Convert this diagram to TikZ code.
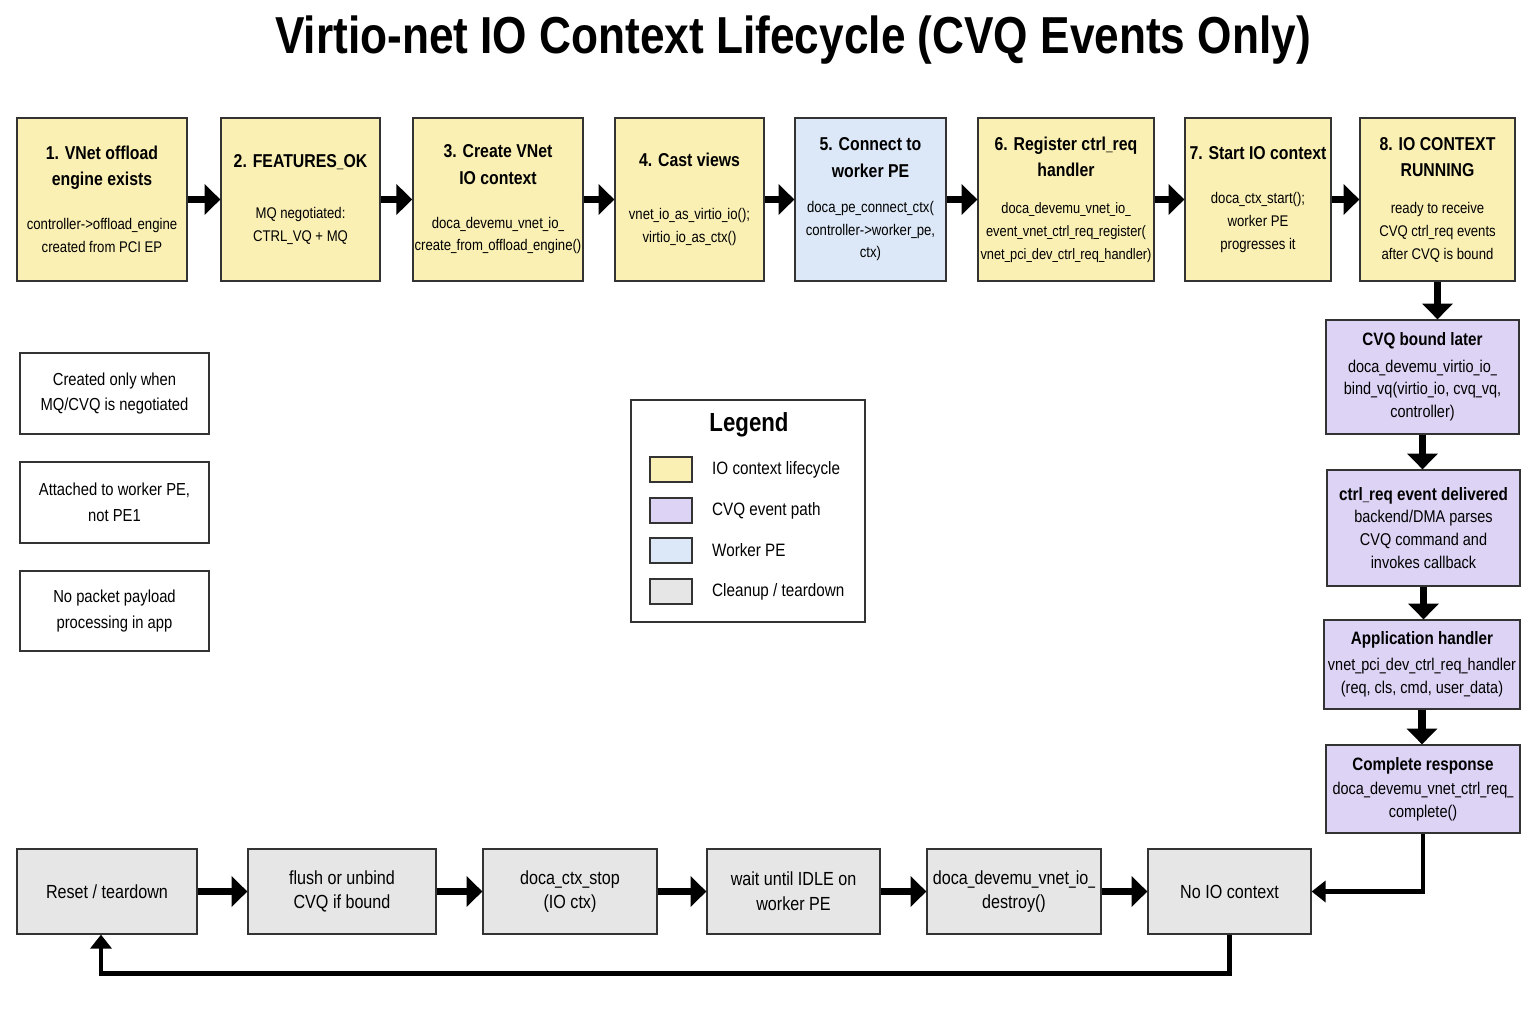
\documentclass[tikz,border=0pt]{standalone}
\usepackage{fontspec}
\setmainfont{Liberation Sans}[FakeStretch=0.85]
\usepackage{tikz}
\usetikzlibrary{arrows.meta,positioning,calc}

\definecolor{lifey}{HTML}{FAF0B4}
\definecolor{cvqp}{HTML}{DDD3F5}
\definecolor{peb}{HTML}{DCE8F7}
\definecolor{cleang}{HTML}{E6E6E6}
\definecolor{edge}{HTML}{333333}

\renewcommand{\_}{\scalebox{0.75}[1]{\textunderscore}}
\newcommand{\hd}[1]{{\fontsize{10.6}{14.7}\selectfont\bfseries #1}}
\newcommand{\hdp}[1]{{\fontsize{10.2}{14}\selectfont\bfseries #1}}

\begin{document}
\begin{tikzpicture}[
    x=0.02cm, y=-0.02cm,
    box/.style={rectangle, draw=edge, line width=0.7pt, align=center, inner sep=1pt},
    life/.style={box, fill=lifey, minimum height=3.26cm, font=\fontsize{8.8}{13}\selectfont},
    worker/.style={life, fill=peb},
    cvq/.style={box, fill=cvqp, font=\fontsize{9.7}{13}\selectfont},
    clean/.style={box, fill=cleang, minimum height=1.7cm, font=\fontsize{10.8}{14}\selectfont},
    note/.style={box, fill=white, minimum width=3.78cm, minimum height=1.62cm, font=\fontsize{9.9}{14.7}\selectfont},
    swatch/.style={rectangle, draw=edge, line width=0.7pt, minimum width=0.84cm, minimum height=0.5cm},
    legtext/.style={anchor=west, font=\fontsize{10.2}{13}\selectfont},
    flow/.style={-{Triangle[length=9pt,width=17pt]}, line width=4pt},
    loopback/.style={-{Triangle[length=8pt,width=12pt]}, line width=2.8pt}
]
\useasboundingbox[fill=white] (0,0) rectangle (1536,1024);

\node[font=\fontsize{29.6}{34}\selectfont\bfseries] (title) at (793,40)
    {Virtio-net IO Context Lifecycle (CVQ Events Only)};

% top row: IO context lifecycle
\node[life, minimum width=3.4cm] (engine) at (102,199.5)
    {\hd{1. VNet offload}\\[2pt]\hd{engine exists}\\[12pt]controller->offload\_engine\\created from PCI EP};
\node[life, minimum width=3.18cm] (feat) at (300.5,199.5)
    {\hd{2. FEATURES\_OK}\\[16pt]MQ negotiated:\\CTRL\_VQ + MQ};
\node[life, minimum width=3.4cm] (create) at (498,199.5)
    {\hd{3. Create VNet}\\[2pt]\hd{IO context}\\[12pt]doca\_devemu\_vnet\_io\_\\create\_from\_offload\_engine()};
\node[life, minimum width=2.98cm] (cast) at (689.5,199.5)
    {\hd{4. Cast views}\\[17pt]vnet\_io\_as\_virtio\_io();\\virtio\_io\_as\_ctx()};
\node[worker, minimum width=3.02cm] (connect) at (870.5,199.5)
    {\hd{5. Connect to}\\[2pt]\hd{worker PE}\\[7pt]doca\_pe\_connect\_ctx(\\controller->worker\_pe,\\ctx)};
\node[life, minimum width=3.52cm, font=\fontsize{8.6}{13}\selectfont] (reg) at (1066,199.5)
    {\hd{6. Register ctrl\_req}\\[2pt]\hd{handler}\\[8pt]doca\_devemu\_vnet\_io\_\\event\_vnet\_ctrl\_req\_register(\\vnet\_pci\_dev\_ctrl\_req\_handler)};
\node[life, minimum width=2.92cm] (start) at (1258,199.5)
    {\hd{7. Start IO context}\\[12pt]doca\_ctx\_start();\\worker PE\\progresses it};
\node[life, minimum width=3.1cm] (run) at (1437.5,199.5)
    {\hd{8. IO CONTEXT}\\[2pt]\hd{RUNNING}\\[8pt]ready to receive\\CVQ ctrl\_req events\\after CVQ is bound};

\draw[flow] (engine) -- (feat);
\draw[flow] (feat) -- (create);
\draw[flow] (create) -- (cast);
\draw[flow] (cast) -- (connect);
\draw[flow] (connect) -- (reg);
\draw[flow] (reg) -- (start);
\draw[flow] (start) -- (run);

% right column: CVQ event path
\node[cvq, minimum width=3.86cm, minimum height=2.28cm] (bind) at (1422.5,377)
    {\hdp{CVQ bound later}\\[2pt]doca\_devemu\_virtio\_io\_\\bind\_vq(virtio\_io, cvq\_vq,\\controller)};
\node[cvq, minimum width=3.86cm, minimum height=2.32cm] (deliv) at (1423.5,528)
    {\hdp{ctrl\_req event delivered}\\backend/DMA parses\\CVQ command and\\invokes callback};
\node[cvq, minimum width=3.92cm, minimum height=1.78cm] (handler) at (1422,664.5)
    {\hdp{Application handler}\\[2pt]vnet\_pci\_dev\_ctrl\_req\_handler\\(req, cls, cmd, user\_data)};
\node[cvq, minimum width=3.88cm, minimum height=1.76cm] (done) at (1423,789)
    {\hdp{Complete response}\\[1pt]doca\_devemu\_vnet\_ctrl\_req\_\\complete()};

\draw[flow] (run.south) -- (run.south |- bind.north);
\draw[flow] (bind.south) -- (bind.south |- deliv.north);
\draw[flow] (deliv.south) -- (deliv.south |- handler.north);
\draw[flow] (handler.south) -- (handler.south |- done.north);

% bottom row: cleanup / teardown
\node[clean, minimum width=3.6cm] (reset) at (107,891.5) {Reset / teardown};
\node[clean, minimum width=3.76cm] (flush) at (342,891.5) {flush or unbind\\CVQ if bound};
\node[clean, minimum width=3.48cm] (stop) at (570,891.5) {doca\_ctx\_stop\\(IO ctx)};
\node[clean, minimum width=3.46cm] (idle) at (793.5,891.5) {wait until IDLE on\\worker PE};
\node[clean, minimum width=3.48cm] (destroy) at (1014,891.5) {doca\_devemu\_vnet\_io\_\\destroy()};
\node[clean, minimum width=3.26cm] (noio) at (1229.5,891.5) {No IO context};

\draw[flow] (reset) -- (flush);
\draw[flow] (flush) -- (stop);
\draw[flow] (stop) -- (idle);
\draw[flow] (idle) -- (destroy);
\draw[flow] (destroy) -- (noio);

\draw[loopback] (done.south) |- (noio.east);
\draw[loopback] (noio.south) -- ++(0,39) -| ($(reset.south)+(-6,0)$);

% notes
\node[note] (mqnote) at (114.5,393.5) {Created only when\\MQ/CVQ is negotiated};
\node[note] (penote) at (114.5,502.5) {Attached to worker PE,\\not PE1};
\node[note, minimum height=1.6cm] (appnote) at (114.5,611) {No packet payload\\processing in app};

% legend
\node[box, fill=white, minimum width=4.68cm, minimum height=4.44cm] (legend) at (748,511) {};
\node[font=\fontsize{14.9}{17}\selectfont\bfseries] (legtitle) at (749,425) {Legend};
\node[swatch, fill=lifey] (swlife) at (671,469.5) {};
\node[swatch, fill=cvqp] (swcvq) at (671,510.5) {};
\node[swatch, fill=peb] (swpe) at (671,550.5) {};
\node[swatch, fill=cleang] (swclean) at (671,591.5) {};
\node[legtext] (lglife) at (706,469.5) {IO context lifecycle};
\node[legtext] (lgcvq) at (706,510.5) {CVQ event path};
\node[legtext] (lgpe) at (706,550.5) {Worker PE};
\node[legtext] (lgclean) at (706,591.5) {Cleanup / teardown};
\end{tikzpicture}
\end{document}
